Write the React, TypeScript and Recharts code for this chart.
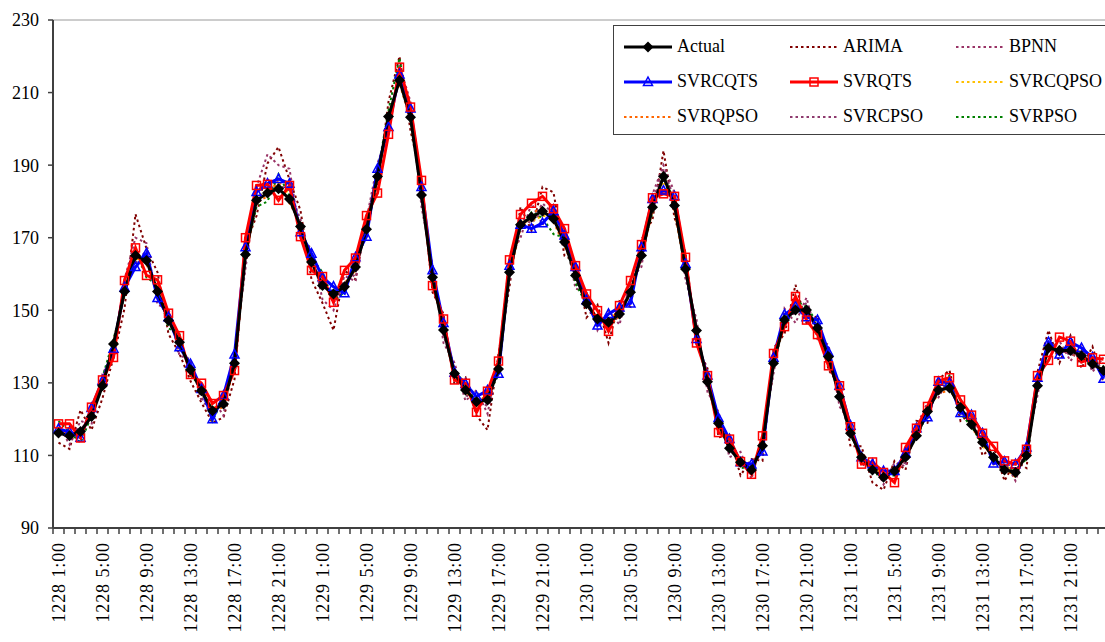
import React from 'react';
import { LineChart, Line, XAxis, YAxis, ReferenceLine, Legend } from 'recharts';

// ─── Data ─────────────────────────────────────────────────────────────────────

const days = ['1228', '1229', '1230', '1231'];
const hours = [
  '1:00', '2:00', '3:00', '4:00', '5:00', '6:00', '7:00', '8:00', '9:00', '10:00', '11:00', '12:00',
  '13:00', '14:00', '15:00', '16:00', '17:00', '18:00', '19:00', '20:00', '21:00', '22:00', '23:00', '24:00',
];
const categories = days.flatMap(d => hours.map(h => `${d} ${h}`));

const actual = [
  116.2, 115.4, 116.6, 120.7, 129.2, 140.7, 155.2, 165.1, 163.7, 155.2, 147.2, 141.2,
  133.6, 127.8, 122.3, 124.2, 135.4, 165.4, 180.3, 182.3, 183.5, 180.7, 173.1, 163.3,
  156.8, 154.5, 156.5, 161.9, 172.3, 186.9, 203.4, 213.4, 203.2, 181.8, 159.1, 144.6,
  132.6, 128.0, 124.8, 125.3, 133.8, 160.5, 173.6, 175.7, 177.3, 175.2, 168.8, 159.6,
  151.8, 147.6, 146.7, 149.0, 155.0, 165.1, 178.4, 186.9, 178.9, 161.4, 144.4, 130.3,
  118.9, 112.0, 108.1, 106.0, 112.7, 135.4, 147.3, 150.1, 150.1, 145.1, 137.2, 126.2,
  116.1, 109.5, 106.0, 104.0, 105.7, 109.5, 115.4, 122.1, 128.0, 128.6, 123.2, 118.5,
  113.6, 109.5, 106.0, 105.3, 110.0, 129.2, 139.6, 138.9, 138.9, 137.5, 135.2, 133.4,
];

const arima = [
  113.5, 111.8, 122.5, 117.0, 125.8, 137.0, 150.5, 176.5, 167.0, 160.5, 143.5, 138.0,
  130.5, 124.5, 119.0, 120.5, 131.0, 168.0, 176.0, 190.5, 195.0, 186.0, 177.5, 158.5,
  152.0, 144.5, 161.0, 158.5, 176.0, 183.5, 207.5, 220.0, 199.5, 186.0, 155.0, 149.0,
  129.5, 131.5, 121.0, 117.0, 138.0, 156.5, 178.5, 172.0, 184.0, 182.5, 165.0, 163.5,
  148.0, 151.5, 141.0, 152.5, 151.0, 169.5, 175.0, 194.0, 175.5, 166.0, 140.5, 134.0,
  115.0, 115.5, 104.5, 109.0, 108.5, 139.5, 143.5, 157.0, 146.5, 148.5, 133.5, 129.5,
  112.5, 112.5, 102.5, 100.5, 108.5, 106.0, 119.5, 119.0, 131.0, 133.5, 119.5, 121.5,
  110.0, 112.5, 103.0, 108.5, 106.5, 133.0, 144.5, 135.5, 143.0, 134.0, 140.0, 130.0,
];

const bpnn = [
  118.5, 113.0, 119.5, 118.5, 132.5, 138.0, 158.5, 170.0, 168.5, 151.5, 150.5, 137.5,
  136.5, 125.0, 125.5, 121.0, 138.5, 161.5, 184.0, 193.0, 190.0, 189.0, 170.0, 167.0,
  153.0, 150.0, 159.5, 158.0, 175.0, 190.5, 199.0, 217.5, 207.5, 178.5, 162.5, 141.0,
  135.5, 125.0, 128.0, 121.5, 136.5, 164.0, 170.0, 179.5, 173.5, 179.0, 171.5, 156.0,
  155.0, 144.5, 150.0, 146.0, 158.5, 162.0, 182.0, 190.0, 182.5, 158.5, 147.5, 127.5,
  122.0, 109.5, 111.0, 103.5, 115.0, 132.5, 150.5, 146.5, 153.5, 142.0, 140.5, 123.5,
  119.0, 107.0, 109.0, 102.0, 108.0, 107.0, 118.0, 124.5, 126.0, 131.5, 121.0, 120.5,
  116.0, 107.5, 108.5, 103.0, 112.5, 126.5, 142.0, 141.5, 136.0, 140.5, 133.0, 137.0,
];

const svrcqts = [
  117.3, 116.5, 114.9, 123.1, 130.6, 139.4, 156.3, 161.9, 165.7, 153.4, 148.1, 139.8,
  135.2, 128.3, 120.0, 126.5, 137.8, 167.4, 182.6, 184.9, 186.2, 184.9, 171.5, 165.6,
  159.1, 156.5, 154.7, 164.6, 170.3, 189.0, 200.5, 215.0, 205.6, 184.0, 161.0, 146.5,
  132.8, 129.7, 126.2, 127.9, 132.5, 162.3, 173.6, 172.5, 174.0, 177.3, 170.6, 161.9,
  152.8, 145.8, 149.0, 150.8, 151.9, 167.4, 180.7, 183.0, 181.4, 162.8, 142.1, 132.0,
  120.3, 114.5, 108.1, 107.5, 111.1, 136.9, 148.8, 151.0, 148.1, 147.3, 138.4, 129.2,
  118.2, 109.5, 107.6, 105.7, 105.7, 110.6, 117.5, 120.5, 130.3, 130.0, 121.7, 121.1,
  116.1, 107.8, 108.3, 107.6, 112.2, 131.4, 141.2, 137.8, 141.2, 139.6, 137.0, 131.1,
];

const svrqts = [
  118.7, 118.7, 114.8, 123.3, 130.8, 137.0, 158.2, 167.2, 159.6, 158.4, 149.2, 143.0,
  132.3, 129.9, 124.3, 126.5, 133.4, 170.0, 184.4, 184.7, 180.3, 184.4, 170.3, 161.0,
  159.3, 152.2, 161.0, 164.4, 176.1, 182.3, 198.5, 217.0, 206.0, 185.8, 156.8, 147.6,
  130.8, 129.9, 121.9, 127.7, 136.0, 163.9, 176.4, 179.5, 181.4, 178.0, 172.5, 162.3,
  154.5, 149.9, 144.2, 151.3, 158.2, 168.1, 181.0, 182.1, 181.4, 164.6, 141.0, 132.0,
  116.3, 114.5, 108.3, 104.8, 115.4, 138.1, 145.5, 153.8, 147.3, 143.3, 134.7, 129.2,
  117.9, 107.6, 108.2, 105.3, 102.5, 112.2, 117.5, 123.5, 130.6, 131.4, 125.3, 121.1,
  116.1, 112.5, 108.5, 107.6, 111.7, 132.0, 136.2, 142.6, 141.5, 135.7, 136.9, 136.5,
];

const svrcqpso = [
  117.0, 116.0, 115.5, 122.0, 130.0, 140.0, 156.0, 164.0, 164.5, 154.5, 147.5, 141.5,
  134.5, 127.0, 121.5, 125.5, 136.0, 166.5, 181.5, 183.0, 185.0, 182.0, 172.0, 164.0,
  156.0, 155.0, 155.5, 163.0, 171.5, 188.0, 202.0, 214.5, 204.0, 183.0, 160.0, 145.5,
  133.5, 127.0, 125.5, 126.0, 134.5, 161.5, 174.5, 174.5, 176.0, 176.0, 169.5, 160.5,
  152.5, 146.5, 147.5, 150.0, 154.0, 166.0, 179.5, 185.5, 180.0, 162.0, 143.5, 131.0,
  119.5, 113.0, 107.5, 106.5, 113.5, 136.0, 148.0, 151.0, 149.5, 146.0, 136.5, 127.0,
  117.0, 110.5, 106.5, 105.0, 105.0, 110.0, 116.5, 121.5, 129.0, 129.5, 122.5, 119.5,
  112.5, 110.0, 107.0, 106.0, 109.5, 130.0, 140.5, 139.5, 139.5, 138.5, 134.5, 134.0,
];

const svrqpso = [
  115.5, 117.0, 116.0, 121.5, 128.5, 141.5, 154.5, 166.0, 162.5, 156.5, 146.5, 142.0,
  133.0, 128.5, 123.5, 123.0, 134.5, 164.5, 179.5, 181.5, 186.0, 179.5, 174.0, 162.5,
  157.5, 153.5, 157.5, 161.0, 173.0, 186.0, 204.5, 212.5, 202.5, 182.5, 158.0, 145.0,
  131.5, 129.0, 123.5, 126.5, 133.0, 159.5, 172.5, 176.5, 178.5, 174.5, 167.5, 161.0,
  151.0, 148.5, 145.5, 148.5, 156.0, 164.0, 177.5, 188.0, 177.5, 160.5, 145.5, 129.5,
  118.0, 112.5, 109.0, 105.5, 112.0, 134.5, 146.5, 151.5, 150.5, 144.5, 138.0, 125.5,
  116.5, 108.5, 107.0, 103.5, 106.5, 108.5, 116.0, 122.5, 127.0, 128.0, 124.0, 117.5,
  114.0, 108.5, 106.5, 104.0, 111.0, 128.5, 139.0, 139.5, 138.0, 137.0, 136.0, 132.5,
];

const svrcpso = [
  117.5, 114.5, 117.5, 119.5, 131.0, 139.0, 157.0, 163.0, 166.5, 153.0, 149.0, 140.0,
  135.0, 126.0, 120.5, 125.5, 137.0, 163.0, 182.5, 186.0, 184.5, 183.0, 175.0, 161.0,
  158.5, 152.0, 157.5, 160.0, 174.5, 188.5, 201.5, 216.0, 205.0, 180.0, 161.5, 143.0,
  134.0, 126.5, 126.0, 123.5, 135.5, 158.5, 175.5, 174.0, 179.5, 176.5, 170.5, 158.0,
  153.5, 146.0, 148.0, 147.5, 157.0, 163.5, 180.0, 189.0, 180.5, 160.0, 146.0, 129.0,
  120.5, 111.0, 109.5, 104.5, 114.0, 134.0, 149.0, 149.0, 152.0, 143.5, 139.0, 125.0,
  117.5, 108.0, 107.5, 103.0, 107.0, 108.0, 117.0, 123.0, 127.5, 130.5, 122.0, 119.0,
  115.0, 108.5, 107.5, 104.5, 111.5, 128.0, 141.0, 140.0, 137.5, 139.0, 134.0, 135.5,
];

const svrpso = [
  119.5, 116.5, 113.5, 121.0, 131.5, 142.0, 154.0, 166.5, 159.0, 157.0, 145.0, 143.5,
  132.0, 129.0, 119.5, 126.0, 134.0, 166.0, 178.5, 180.0, 187.5, 181.5, 172.5, 164.5,
  160.5, 152.5, 155.0, 163.5, 170.5, 188.0, 205.0, 219.5, 202.0, 183.5, 157.5, 146.0,
  133.0, 130.0, 124.0, 127.0, 132.0, 161.0, 173.0, 177.0, 175.5, 171.0, 170.0, 157.5,
  151.5, 148.0, 145.0, 149.5, 154.5, 166.5, 177.0, 187.5, 179.5, 162.5, 143.0, 131.5,
  118.5, 113.5, 106.5, 107.0, 113.0, 135.5, 147.0, 152.5, 151.0, 146.5, 136.0, 127.5,
  115.5, 110.0, 105.0, 104.5, 104.5, 111.0, 114.5, 122.0, 128.5, 132.0, 121.5, 118.0,
  113.0, 110.5, 105.5, 106.0, 109.0, 130.5, 140.0, 138.0, 140.5, 137.0, 134.5, 134.5,
];

const yTicks = [90, 110, 130, 150, 170, 190, 210, 230];

const data = categories.map((name, i) => ({
  name,
  Actual: actual[i],
  ARIMA: arima[i],
  BPNN: bpnn[i],
  SVRCQTS: svrcqts[i],
  SVRQTS: svrqts[i],
  SVRCQPSO: svrcqpso[i],
  SVRQPSO: svrqpso[i],
  SVRCPSO: svrcpso[i],
  SVRPSO: svrpso[i],
}));

// ─── Styling ──────────────────────────────────────────────────────────────────

const FONT = "'Liberation Serif', 'DejaVu Serif', serif";
const AXIS = '#404040';

type Marker = 'diamond' | 'triangle' | 'square' | null;
interface SeriesDef { key: string; color: string; width: number; dash?: string; marker: Marker }

// legend order (3 columns, row by row)
const legendOrder: SeriesDef[] = [
  { key: 'Actual', color: '#000000', width: 3, marker: 'diamond' },
  { key: 'ARIMA', color: '#800000', width: 2, dash: '2.5 3', marker: null },
  { key: 'BPNN', color: '#993366', width: 2, dash: '2.5 3', marker: null },
  { key: 'SVRCQTS', color: '#0000FF', width: 3, marker: 'triangle' },
  { key: 'SVRQTS', color: '#FF0000', width: 3, marker: 'square' },
  { key: 'SVRCQPSO', color: '#FFC000', width: 2, dash: '2.5 3', marker: null },
  { key: 'SVRQPSO', color: '#FF6600', width: 2, dash: '2.5 3', marker: null },
  { key: 'SVRCPSO', color: '#8E3A6E', width: 2, dash: '2.5 3', marker: null },
  { key: 'SVRPSO', color: '#008000', width: 2, dash: '2.5 3', marker: null },
];
const byKey = (k: string) => legendOrder.find(s => s.key === k)!;

// drawing order: dotted forecasts underneath, then QTS models, actual on top
const drawOrder = ['ARIMA', 'BPNN', 'SVRCQPSO', 'SVRQPSO', 'SVRCPSO', 'SVRPSO', 'SVRCQTS', 'SVRQTS', 'Actual'];

function markerShape(type: Marker, cx: number, cy: number, color: string, key?: React.Key) {
  if (type === 'diamond') {
    const r = 5.5;
    return <path key={key} d={`M${cx},${cy - r}L${cx + r},${cy}L${cx},${cy + r}L${cx - r},${cy}Z`} fill={color} />;
  }
  if (type === 'triangle') {
    return (
      <path key={key} d={`M${cx},${cy - 5}L${cx + 4.5},${cy + 3.5}L${cx - 4.5},${cy + 3.5}Z`}
        fill="none" stroke={color} strokeWidth={1.5} />
    );
  }
  if (type === 'square') {
    return <rect key={key} x={cx - 4} y={cy - 4} width={8} height={8} fill="none" stroke={color} strokeWidth={1.5} />;
  }
  return <g key={key} />;
}

// ─── Axis tick (ticks sit between categories, label every 4 hours) ────────────

function CategoryTick(props: any) {
  const { x, y, index, payload } = props;
  return (
    <g>
      <line x1={x - 5.5} x2={x - 5.5} y1={y} y2={y + 6} stroke={AXIS} strokeWidth={1.5} />
      {index % 4 === 0 && (
        <text
          transform={`translate(${x},${y + 14}) rotate(-90)`}
          textAnchor="end"
          dy="0.35em"
          fontSize={18}
          letterSpacing={0.9}
          style={{ fontFamily: FONT }}
          fill="#000"
        >
          {payload.value}
        </text>
      )}
    </g>
  );
}

// ─── Legend ───────────────────────────────────────────────────────────────────

function LegendBox() {
  return (
    <div
      style={{
        boxSizing: 'border-box',
        width: 493,
        height: 110,
        border: `1px solid ${AXIS}`,
        background: '#fff',
        display: 'grid',
        gridTemplateColumns: '166px 166px 160px',
        gridAutoRows: 35,
        paddingTop: 3,
        paddingLeft: 9,
        fontFamily: FONT,
        fontSize: 18,
        color: '#000',
      }}
    >
      {legendOrder.map(s => (
        <div key={s.key} style={{ display: 'flex', alignItems: 'center' }}>
          <svg width={50} height={14} style={{ marginRight: 4 }}>
            <line x1={1} x2={49} y1={7} y2={7} stroke={s.color} strokeWidth={s.width} strokeDasharray={s.dash} />
            {markerShape(s.marker, 25, 7, s.color)}
          </svg>
          <span>{s.key}</span>
        </div>
      ))}
    </div>
  );
}

// ─── Component ────────────────────────────────────────────────────────────────

export default function App() {
  return (
    <div style={{ position: 'fixed', left: 0, top: 0, width: 1105, height: 642, overflow: 'hidden', background: '#fff', fontFamily: FONT }}>
      <LineChart width={1112} height={642} data={data} margin={{ top: 20, right: 3, bottom: 0, left: 0 }}
        style={{ fontFamily: FONT }}>
        <XAxis
          dataKey="name"
          scale="band"
          interval={0}
          height={114}
          tickLine={false}
          tickSize={0}
          tickMargin={0}
          axisLine={{ stroke: AXIS, strokeWidth: 2 }}
          tick={<CategoryTick />}
        />
        <YAxis
          domain={[90, 230]}
          ticks={yTicks}
          interval={0}
          width={53}
          tickSize={5}
          tickMargin={9}
          axisLine={{ stroke: AXIS, strokeWidth: 2 }}
          tickLine={{ stroke: AXIS, strokeWidth: 1.5 }}
          tick={{ fontSize: 18, fill: '#000', style: { fontFamily: FONT } }}
        />
        <ReferenceLine y={230} stroke="#9a9a9a" strokeWidth={1} />
        {drawOrder.map(k => {
          const s = byKey(k);
          return (
            <Line
              key={k}
              type="linear"
              dataKey={k}
              stroke={s.color}
              strokeWidth={s.width}
              strokeDasharray={s.dash}
              dot={s.marker ? (p: any) => markerShape(s.marker, p.cx, p.cy, s.color, p.index) : false}
              activeDot={false}
              isAnimationActive={false}
            />
          );
        })}
        <Legend
          layout="vertical"
          align="center"
          verticalAlign="middle"
          wrapperStyle={{ left: 613, top: 25, width: 493, height: 110 }}
          content={() => <LegendBox />}
        />
      </LineChart>
    </div>
  );
}
